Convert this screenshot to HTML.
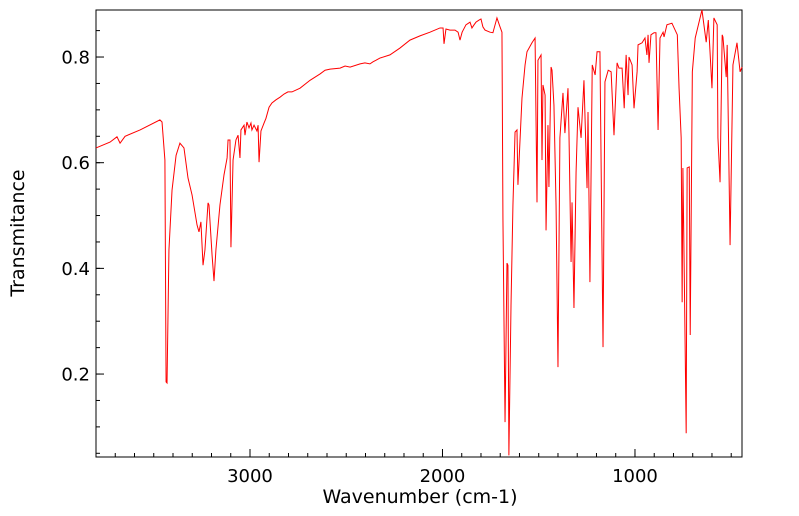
<!DOCTYPE html>
<html><head><meta charset="utf-8"><style>
body{margin:0;background:#fff;}
svg{display:block;font-family:"DejaVu Sans","Liberation Sans",sans-serif;}
</style></head><body>
<svg id="chart" width="799" height="516">
<rect x="96" y="10" width="646" height="447" fill="#fff" stroke="#000" stroke-width="1"/>
<g id="ticks"></g>
<path id="spectrum" fill="none" stroke="#ff0000" stroke-width="1"/>
<text x="420" y="503" text-anchor="middle" font-size="19">Wavenumber (cm-1)</text>
<text transform="translate(24,233) rotate(-90)" text-anchor="middle" font-size="19">Transmitance</text>
</svg>
<script>
const wavenumbers=[3800,3727,3691,3675,3649,3571,3468,3457,3442,3436,3431,3421,3405,3384,3364,3343,3322,3301,3275,3265,3255,3244,3234,3218,3213,3197,3187,3177,3156,3135,3119,3114,3104,3099,3088,3073,3062,3052,3047,3031,3026,3016,3005,2995,2990,2979,2964,2958,2953,2943,2927,2917,2901,2886,2865,2844,2823,2803,2782,2740,2688,2636,2610,2584,2532,2506,2480,2428,2403,2377,2361,2345,2325,2273,2221,2169,2117,2065,2013,1997,1992,1982,1961,1935,1919,1909,1898,1878,1857,1847,1836,1826,1810,1800,1790,1779,1753,1738,1717,1701,1691,1686,1675,1665,1660,1655,1644,1634,1623,1613,1608,1587,1571,1561,1535,1519,1509,1504,1488,1483,1478,1467,1462,1452,1447,1436,1431,1421,1410,1400,1390,1374,1364,1348,1343,1332,1327,1317,1306,1296,1280,1265,1249,1244,1234,1222,1207,1197,1182,1166,1156,1139,1124,1109,1093,1083,1067,1056,1046,1036,1031,1015,1005,989,984,963,948,938,932,927,917,901,891,880,870,854,849,834,808,780,771,760,755,751,744,734,729,718,713,702,687,652,630,619,600,590,573,569,558,547,543,526,521,506,491,470,454,444];
const transmittance=[0.628,0.639,0.649,0.637,0.650,0.662,0.681,0.677,0.605,0.185,0.183,0.435,0.548,0.614,0.637,0.628,0.571,0.539,0.482,0.469,0.488,0.406,0.435,0.524,0.520,0.425,0.376,0.435,0.520,0.577,0.609,0.643,0.643,0.440,0.605,0.643,0.652,0.609,0.662,0.671,0.652,0.677,0.666,0.675,0.662,0.671,0.660,0.671,0.601,0.660,0.675,0.684,0.705,0.713,0.719,0.724,0.730,0.734,0.734,0.741,0.756,0.768,0.775,0.777,0.779,0.783,0.781,0.787,0.789,0.787,0.791,0.794,0.798,0.804,0.817,0.832,0.840,0.847,0.855,0.855,0.825,0.853,0.851,0.851,0.847,0.832,0.847,0.861,0.866,0.855,0.861,0.866,0.870,0.872,0.857,0.851,0.847,0.846,0.874,0.857,0.847,0.495,0.109,0.410,0.406,0.046,0.330,0.520,0.658,0.662,0.558,0.722,0.785,0.810,0.827,0.836,0.525,0.794,0.804,0.605,0.747,0.728,0.472,0.671,0.554,0.781,0.775,0.709,0.520,0.213,0.647,0.732,0.656,0.741,0.658,0.412,0.525,0.325,0.582,0.705,0.647,0.756,0.552,0.696,0.374,0.785,0.766,0.810,0.810,0.251,0.753,0.775,0.772,0.652,0.789,0.779,0.779,0.703,0.804,0.728,0.800,0.785,0.703,0.772,0.823,0.827,0.836,0.804,0.842,0.789,0.842,0.846,0.846,0.662,0.836,0.847,0.838,0.861,0.864,0.842,0.741,0.647,0.336,0.590,0.393,0.088,0.590,0.592,0.274,0.772,0.836,0.889,0.828,0.870,0.741,0.874,0.861,0.647,0.563,0.842,0.838,0.762,0.823,0.444,0.785,0.827,0.772,0.781];
const yTickValues=[0.2,0.4,0.6,0.8];
const xTickValues=[1000,2000,3000];
const xTickLabels=["1000","2000","3000"];
const yTickLabels=["0.2","0.4","0.6","0.8"];

const L=96,R=742,T=10,B=457;
const xMin=444,xMax=3800,yMin=0.043,yMax=0.889;
function xs(w){return L+(xMax-w)/(xMax-xMin)*(R-L);}
function ys(v){return B-(v-yMin)/(yMax-yMin)*(B-T);}
const NS="http://www.w3.org/2000/svg";
const g=document.getElementById('ticks');
function line(x1,y1,x2,y2,name){const l=document.createElementNS(NS,'line');
l.setAttribute('x1',x1);l.setAttribute('y1',y1);l.setAttribute('x2',x2);l.setAttribute('y2',y2);
l.setAttribute('stroke','#000');l.setAttribute('stroke-width','1');


g.appendChild(l);}
function text(x,y,s,anchor,name){const t=document.createElementNS(NS,'text');
t.setAttribute('x',x);t.setAttribute('y',y);t.setAttribute('text-anchor',anchor);t.setAttribute('font-size','18');t.textContent=s;


g.appendChild(t);}
for(let v=0.05;v<yMax;v+=0.05){const y=ys(v);if(y<T||y>B)continue;line(L,y,L+4,y,'y-minor-tick');}
yTickValues.forEach((v,i)=>{const y=ys(v);line(L,y,L+8,y,'y-major-tick');text(90,y+6.5,yTickLabels[i],'end','y-tick-label');});
for(let w=500;w<xMax;w+=100){const x=xs(w);if(x<L||x>R)continue;line(x,B,x,B-4,'x-minor-tick');}
xTickValues.forEach((w,i)=>{const x=xs(w);line(x,B,x,B-8,'x-major-tick');text(x,482,xTickLabels[i],'middle','x-tick-label');});
let d='';
wavenumbers.forEach((w,i)=>{d+=(i?'L':'M')+xs(w).toFixed(2)+','+ys(transmittance[i]).toFixed(2);});
document.getElementById('spectrum').setAttribute('d',d);
</script>
</body></html>
